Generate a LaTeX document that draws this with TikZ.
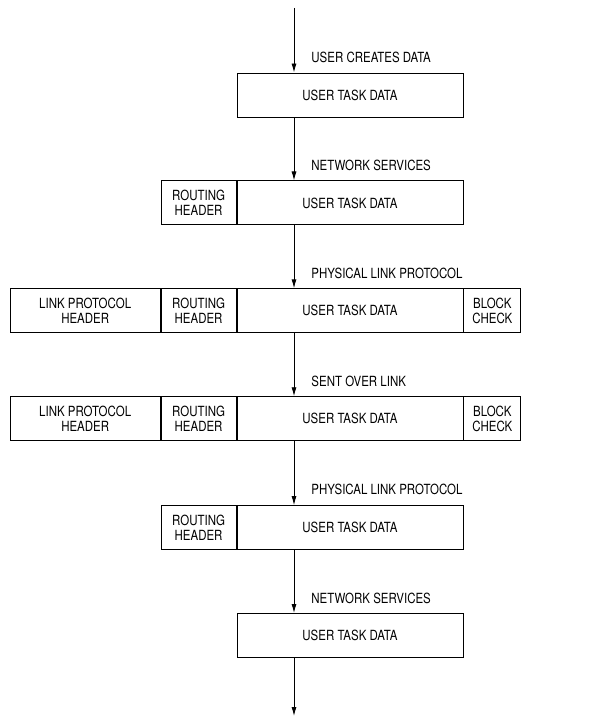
\documentclass[tikz,border=0pt]{standalone}
\usepackage{fontspec}
\newfontfamily\diagfont[FakeStretch=0.82]{TeX Gyre Heros}
\usetikzlibrary{positioning,arrows.meta}

\begin{document}
\begin{tikzpicture}
      [ x=1pt, y=-1pt, line width=0.9pt,
        font=\diagfont\fontsize{14}{15}\selectfont,
        field/.style={draw, minimum height=44pt, inner sep=0pt, align=center},
        data/.style={field, minimum width=226pt},
        rhdr/.style={field, minimum width=75pt},
        lhdr/.style={field, minimum width=150pt},
        bchk/.style={field, minimum width=57pt},
        flow/.style={-{Latex[length=9pt,width=5pt]}},
        stage/.style={anchor=west, pos=0.76, inner sep=0pt, xshift=17pt}
      ]
      \useasboundingbox (0,0) rectangle (603,717);
      \coordinate (top) at (294,8);
      \coordinate (bot) at (294,716);

      \node[data]  (d1) at (350,95)           {USER TASK DATA};
      \node[data]  (d2) [below=63pt of d1]    {USER TASK DATA};
      \node[rhdr]  (r2) [left=0pt of d2]      {ROUTING\\HEADER};
      \node[data]  (d3) [below=63pt of d2]    {USER TASK DATA};
      \node[rhdr]  (r3) [left=0pt of d3]      {ROUTING\\HEADER};
      \node[lhdr]  (l3) [left=0pt of r3]      {LINK PROTOCOL\\HEADER};
      \node[bchk]  (b3) [right=0pt of d3]     {BLOCK\\CHECK};
      \node[data]  (d4) [below=63pt of d3]    {USER TASK DATA};
      \node[rhdr]  (r4) [left=0pt of d4]      {ROUTING\\HEADER};
      \node[lhdr]  (l4) [left=0pt of r4]      {LINK PROTOCOL\\HEADER};
      \node[bchk]  (b4) [right=0pt of d4]     {BLOCK\\CHECK};
      \node[data]  (d5) [below=64pt of d4]    {USER TASK DATA};
      \node[rhdr]  (r5) [left=0pt of d5]      {ROUTING\\HEADER};
      \node[data]  (d6) [below=63pt of d5]    {USER TASK DATA};

      \path[flow] (top)            edge node[stage] {USER CREATES DATA}      (top |- d1.north)
                  (d1.south -| top) edge node[stage] {NETWORK SERVICES}       (d2.north -| top)
                  (d2.south -| top) edge node[stage] {PHYSICAL LINK PROTOCOL} (d3.north -| top)
                  (d3.south -| top) edge node[stage] {SENT OVER LINK}         (d4.north -| top)
                  (d4.south -| top) edge node[stage] {PHYSICAL LINK PROTOCOL} (d5.north -| top)
                  (d5.south -| top) edge node[stage] {NETWORK SERVICES}       (d6.north -| top)
                  (d6.south -| top) edge                                      (bot);
    \end{tikzpicture}
\end{document}
